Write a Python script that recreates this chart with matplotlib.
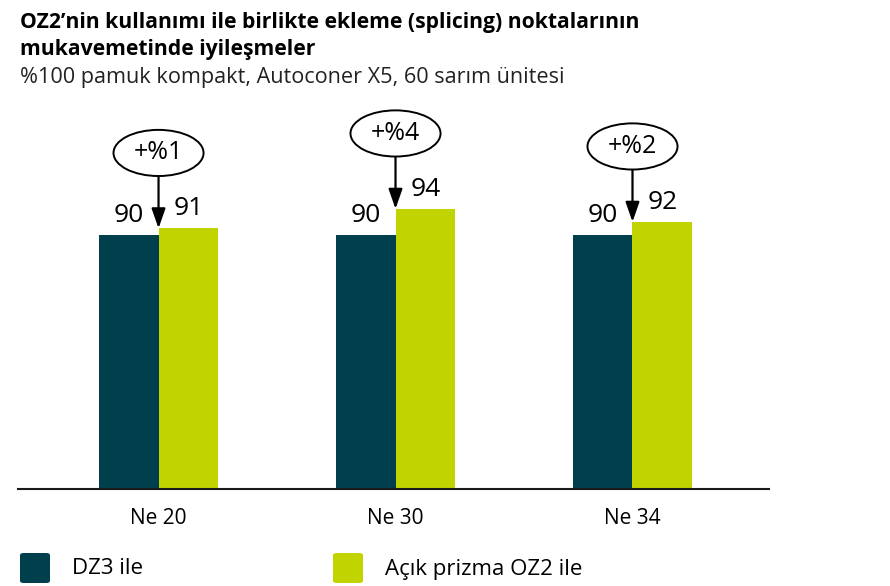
import matplotlib
matplotlib.use("Agg")
import matplotlib.pyplot as plt
from matplotlib.patches import Ellipse, FancyBboxPatch

# Data
categories = ["Ne 20", "Ne 30", "Ne 34"]
dz3_values = [90, 90, 90]
oz2_values = [91, 94, 92]
gain_labels = ["+%1", "+%4", "+%2"]
series_names = ["DZ3 ile", "Açık prizma OZ2 ile"]

title_lines = ["OZ2\u2019nin kullanımı ile birlikte ekleme (splicing) noktalarının",
               "mukavemetinde iyileşmeler"]
subtitle = "%100 pamuk kompakt, Autoconer X5, 60 sarım ünitesi"

DARK = "#003f4c"
GREEN = "#c1d400"
FONT = "Open Sans"

plt.rcParams['font.family'] = [FONT, 'DejaVu Sans']

W, H = 890, 586
fig = plt.figure(figsize=(W / 100, H / 100), dpi=100)

# axes placed in pixel terms
ax_left, ax_right, ax_bottom, ax_top = 18, 769, 489, 100
ax = fig.add_axes([ax_left / W, 1 - ax_bottom / H, (ax_right - ax_left) / W, (ax_bottom - ax_top) / H])

bar_w = 0.253
x = list(range(len(categories)))
ax.bar([i - bar_w / 2 for i in x], dz3_values, width=bar_w, color=DARK)
ax.bar([i + bar_w / 2 for i in x], oz2_values, width=bar_w, color=GREEN)

ax.set_xlim(-0.593, 2.576)
ax.set_ylim(50.9, 50.9 + (ax_bottom - ax_top) / 6.5)

for i in x:
    ax.annotate(str(dz3_values[i]), (i - bar_w / 2, dz3_values[i]), xytext=(0, 5),
                textcoords="offset points", ha="center", va="bottom", fontsize=19)
    ax.annotate(str(oz2_values[i]), (i + bar_w / 2, oz2_values[i]), xytext=(0, 5),
                textcoords="offset points", ha="center", va="bottom", fontsize=19)
    # callout ellipse
    cy = oz2_values[i] + 11.6
    eh = 7.1
    ax.add_patch(Ellipse((i, cy), 0.38, eh, facecolor="white", edgecolor="black", lw=1.4, zorder=4))
    ax.text(i, cy, gain_labels[i], ha="center", va="center", fontsize=18, zorder=5)
    ax.annotate("", xy=(i, oz2_values[i]), xytext=(i, cy - eh / 2),
                arrowprops=dict(arrowstyle="-|>,head_length=1.2,head_width=0.42",
                                color="black", lw=1.6, shrinkA=0, shrinkB=0), zorder=3)

ax.set_xticks(x)
ax.set_xticklabels(categories, fontsize=15)
ax.tick_params(axis="x", length=0, pad=14)
ax.set_yticks([])
for s in ["top", "right", "left"]:
    ax.spines[s].set_visible(False)
ax.spines["bottom"].set_linewidth(1.5)
ax.spines["bottom"].set_color("#1a1a1a")

# titles
fig.text(20 / W, 1 - 28 / H, title_lines[0], fontsize=15.2, fontweight="bold", va="baseline")
fig.text(20 / W, 1 - 55 / H, title_lines[1], fontsize=15.2, fontweight="bold", va="baseline")
fig.text(20 / W, 1 - 83 / H, subtitle, fontsize=15.6, va="baseline", color="#222222")

# legend
legend_x = [20, 333]
text_x = [72, 385]
colors = [DARK, GREEN]
for lx, tx, c, name in zip(legend_x, text_x, colors, series_names):
    fig.patches.append(FancyBboxPatch((lx / W, 1 - 583 / H), 30 / W, 30 / H,
                                      boxstyle="round,pad=0,rounding_size=0.004",
                                      facecolor=c, edgecolor="none",
                                      transform=fig.transFigure, figure=fig))
    fig.text(tx / W, 1 - 569 / H, name, fontsize=16, va="center")

fig.savefig("out.png", dpi=100)
